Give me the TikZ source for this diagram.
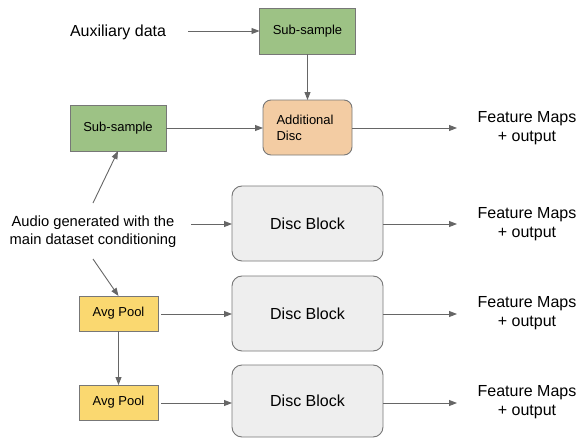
\documentclass[tikz,border=0pt]{standalone}
\usepackage{fontspec}
\setmainfont{Liberation Sans}
\usetikzlibrary{arrows.meta}
\definecolor{gfill}{HTML}{9DC285}
\definecolor{pfill}{HTML}{F3CCA3}
\definecolor{yfill}{HTML}{FAD870}
\definecolor{dfill}{HTML}{EEEEEE}
\definecolor{edge}{HTML}{777777}
\definecolor{arr}{HTML}{666666}
\tikzset{
  every node/.style={inner sep=0pt, outer sep=0pt, text=black},
  greenbox/.style={draw=edge, line width=0.9pt, fill=gfill, minimum width=96pt, minimum height=46pt, font=\fontsize{13}{16}\selectfont},
  peachbox/.style={draw=edge, line width=0.9pt, fill=pfill, rounded corners=8pt, minimum width=89pt, minimum height=55pt, font=\fontsize{13}{16}\selectfont},
  yellowbox/.style={draw=edge, line width=0.9pt, fill=yfill, minimum width=79pt, minimum height=35pt, font=\fontsize{13}{16}\selectfont},
  discbox/.style={draw=edge, line width=0.9pt, fill=dfill, rounded corners=10pt, minimum width=151pt, font=\fontsize{16}{19}\selectfont},
  lbl/.style={font=\fontsize{16}{19}\selectfont, align=center},
  conn/.style={draw=arr, line width=0.9pt, -{Triangle[length=8pt,width=6pt]}},
}
\begin{document}
\begin{tikzpicture}[x=1pt,y=-1pt]
\useasboundingbox (0,0) rectangle (579,439);
% nodes
\node[lbl, anchor=west] (aux) at (70,32) {Auxiliary data};
\node[greenbox] (ss1) at (307.5,31) {Sub-sample};
\node[peachbox, align=left, text width=62pt] (ad) at (307.5,127.5) {Additional\\Disc};
\node[greenbox] (ss2) at (118,128) {Sub-sample};
\node[font=\fontsize{14.7}{18}\selectfont, align=center] (audio) at (93,232) {Audio generated with the\\main dataset conditioning};
\node[discbox, minimum height=75pt] (d1) at (307.5,223.5) {Disc Block};
\node[discbox, minimum height=75pt] (d2) at (307.5,313.5) {Disc Block};
\node[discbox, minimum height=72pt] (d3) at (307.5,401) {Disc Block};
\node[yellowbox] (ap1) at (118.5,313.5) {Avg Pool};
\node[yellowbox] (ap2) at (118.5,402.5) {Avg Pool};
\node[lbl] (f0) at (527,128) {Feature Maps\\+ output};
\node[lbl] (f1) at (527,224.5) {Feature Maps\\+ output};
\node[lbl] (f2) at (527,313.5) {Feature Maps\\+ output};
\node[lbl] (f3) at (527,402.5) {Feature Maps\\+ output};
% coordinates for free ends
\coordinate (auxE) at (188,31);
\coordinate (audTop) at (93,203);
\coordinate (audBot) at (93,259);
\coordinate (audR) at (191,224);
\coordinate (ap1R) at (161,314);
\coordinate (ap2R) at (161,403);
\coordinate (e0) at (457,128);
\coordinate (e1) at (457,224);
\coordinate (e2) at (457,314);
\coordinate (e3) at (457,403);
% connectors
\draw[conn] (auxE) -- (ss1.west);
\draw[conn] (ss1.south) -- (ad.north);
\draw[conn] (ss2.east) -- (ad.west |- ss2.east);
\draw[conn] (ad.east |- e0) -- (e0);
\draw[conn] (audTop) -- (ss2.south);
\draw[conn] (audBot) -- (ap1.north);
\draw[conn] (audR) -- (d1.west |- audR);
\draw[conn] (ap1R) -- (d2.west |- ap1R);
\draw[conn] (ap2R) -- (d3.west |- ap2R);
\draw[conn] (ap1.south) -- (ap2.north);
\draw[conn] (d1.east |- e1) -- (e1);
\draw[conn] (d2.east |- e2) -- (e2);
\draw[conn] (d3.east |- e3) -- (e3);
\end{tikzpicture}
\end{document}
